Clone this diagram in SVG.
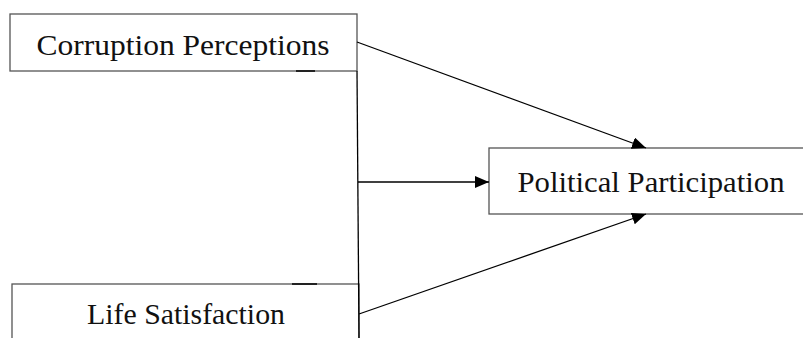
<svg xmlns="http://www.w3.org/2000/svg" width="803" height="338" viewBox="0 0 803 338">
<style>
.box{fill:#fff;stroke:#555;stroke-width:1.3}
.lbl{font-family:"Liberation Serif","DejaVu Serif",serif;font-size:30px;fill:#111;text-anchor:middle}
.edge{stroke:#000;stroke-width:1.3;fill:none}
.mark{stroke:#222;stroke-width:2}
</style>
<defs>
<marker id="ah" viewBox="0 0 14 12" refX="14" refY="6" markerWidth="14" markerHeight="12" markerUnits="userSpaceOnUse" orient="auto">
<path d="M0,0 L14,6 L0,12 Z" fill="#000"/>
</marker>
</defs>
<g id="corruption">
<rect class="box" x="10" y="14" width="347" height="57"/>
<line class="mark" x1="296" y1="71" x2="315" y2="71"/>
<text class="lbl" x="183" y="55" textLength="293" lengthAdjust="spacingAndGlyphs">Corruption Perceptions</text>
</g>
<g id="life">
<rect class="box" x="12" y="284" width="347" height="60"/>
<line class="mark" x1="292" y1="284" x2="317" y2="284"/>
<text class="lbl" x="186" y="324" textLength="198" lengthAdjust="spacingAndGlyphs">Life Satisfaction</text>
</g>
<g id="political">
<rect class="box" x="489" y="148" width="320" height="66"/>
<text class="lbl" x="651" y="192" textLength="267" lengthAdjust="spacingAndGlyphs">Political Participation</text>
</g>
<g id="connectors">
<line class="edge" x1="357" y1="71" x2="359" y2="338"/>
<line class="edge" x1="357" y1="42" x2="646" y2="148" marker-end="url(#ah)"/>
<line class="edge" x1="358" y1="182" x2="489" y2="182" marker-end="url(#ah)"/>
<line class="edge" x1="359" y1="314" x2="646" y2="214" marker-end="url(#ah)"/>
</g>
</svg>
